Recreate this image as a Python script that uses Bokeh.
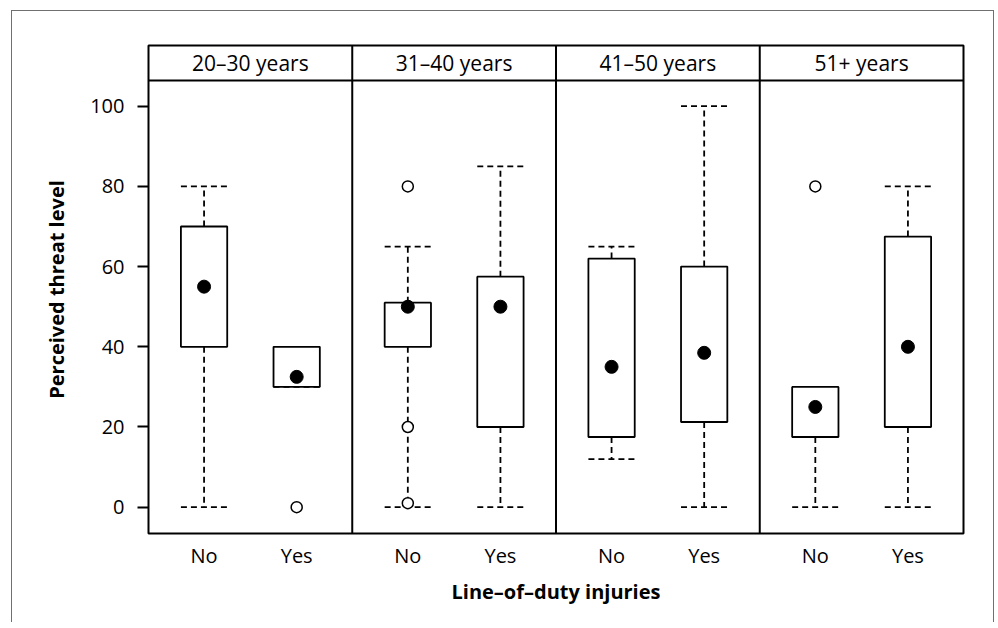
from bokeh.plotting import figure
from bokeh.models import FixedTicker, Span, Range1d, ColumnDataSource
from bokeh.core.properties import value
from bokeh.embed import file_html
from bokeh.resources import INLINE

# ---- data ----
age_groups = ["20–30 years", "31–40 years", "41–50 years", "51+ years"]
injury_levels = ["No", "Yes"]
# one entry per box: (age group, injury) in order No/Yes within each group
whisker_low = [0, 30, 0, 0, 12, 0, 0, 0]
quart_1 = [40, 30, 40, 20, 17.5, 21.25, 17.5, 20]
medians = [55, 32.5, 50, 50, 35, 38.5, 25, 40]
quart_3 = [70, 40, 51, 57.5, 62, 60, 30, 67.5]
whisker_high = [80, 40, 65, 85, 65, 100, 30, 80]
outlier_box = [1, 2, 2, 2, 6]
outlier_val = [0, 80, 20, 1, 80]
y_ticks = [0, 20, 40, 60, 80, 100]

FONT = "Open Sans"
PANEL = 2.2
BOXW = 0.5
pos = [round(PANEL * g + 0.6 + k, 4) for g in range(len(age_groups)) for k in range(len(injury_levels))]
labels = [lv for g in age_groups for lv in injury_levels]

Y0, Y1 = -6.56, 115.14
STRIP = 106.41

p = figure(width=983, height=612, x_range=Range1d(0, PANEL * len(age_groups)),
           y_range=Range1d(Y0, Y1), output_backend="svg", toolbar_location=None,
           min_border_left=136, min_border_right=32, min_border_top=34, min_border_bottom=90)
p.styles = {"border-top": "1px solid #707070", "border-left": "1px solid #707070",
            "border-right": "1px solid #707070", "margin-left": "11px", "margin-top": "10px"}
p.grid.visible = False
p.outline_line_color = "black"
p.outline_line_width = 2
p.background_fill_color = "white"
p.border_fill_color = "white"

src = ColumnDataSource(dict(
    x=pos, lo=whisker_low, q1=quart_1, med=medians, q3=quart_3, hi=whisker_high,
    left=[x - BOXW / 2 for x in pos], right=[x + BOXW / 2 for x in pos]))

LW = 1.8
DASH = "6 4"
# whiskers
p.segment(x0="x", y0="q3", x1="x", y1="hi", source=src, line_color="black", line_width=LW, line_dash=DASH)
p.segment(x0="x", y0="q1", x1="x", y1="lo", source=src, line_color="black", line_width=LW, line_dash=DASH)
p.segment(x0="left", y0="hi", x1="right", y1="hi", source=src, line_color="black", line_width=LW, line_dash=DASH)
p.segment(x0="left", y0="lo", x1="right", y1="lo", source=src, line_color="black", line_width=LW, line_dash=DASH)
# boxes
p.quad(left="left", right="right", bottom="q1", top="q3", source=src,
       fill_color="white", line_color="black", line_width=LW)
# medians
p.scatter(x="x", y="med", source=src, size=13, marker="circle", fill_color="black", line_color="black")
# outliers
p.scatter(x=[pos[i] for i in outlier_box], y=outlier_val, size=11, marker="circle",
          fill_color="white", line_color="black", line_width=1.5)

# strips and panel separators
p.add_layout(Span(location=STRIP, dimension="width", line_color="black", line_width=2))
for g in range(1, len(age_groups)):
    p.add_layout(Span(location=PANEL * g, dimension="height", line_color="black", line_width=2))
p.text(x=[PANEL * g + PANEL / 2 for g in range(len(age_groups))], y=[(STRIP + Y1) / 2] * len(age_groups),
       text=age_groups, text_align="center", text_baseline="middle",
       text_font=value(FONT), text_font_size="21px", text_color="black")

# axes
xa = p.xaxis[0]
xa.ticker = FixedTicker(ticks=pos)
xa.major_label_overrides = {x: l for x, l in zip(pos, labels)}
xa.axis_line_color = None
xa.major_tick_line_color = None
xa.minor_tick_line_color = None
xa.major_label_standoff = 2
xa.major_label_text_font = FONT
xa.major_label_text_font_size = "20px"
xa.major_label_text_color = "black"
xa.axis_label = "Line–of–duty injuries"
xa.axis_label_text_font = FONT
xa.axis_label_text_font_size = "20px"
xa.axis_label_text_font_style = "bold"
xa.axis_label_text_color = "black"
xa.axis_label_standoff = 6

ya = p.yaxis[0]
ya.ticker = FixedTicker(ticks=y_ticks)
ya.axis_line_color = None
ya.major_tick_in = 0
ya.major_tick_out = 11
ya.major_tick_line_width = 2
ya.major_tick_line_color = "black"
ya.minor_tick_line_color = None
ya.major_label_standoff = 13
ya.major_label_text_font = FONT
ya.major_label_text_font_size = "20px"
ya.major_label_text_color = "black"
ya.axis_label = "Perceived threat level"
ya.axis_label_text_font = FONT
ya.axis_label_text_font_size = "20px"
ya.axis_label_text_font_style = "bold"
ya.axis_label_text_color = "black"
ya.axis_label_standoff = 17

open("out.html", "w").write(file_html(p, INLINE))
